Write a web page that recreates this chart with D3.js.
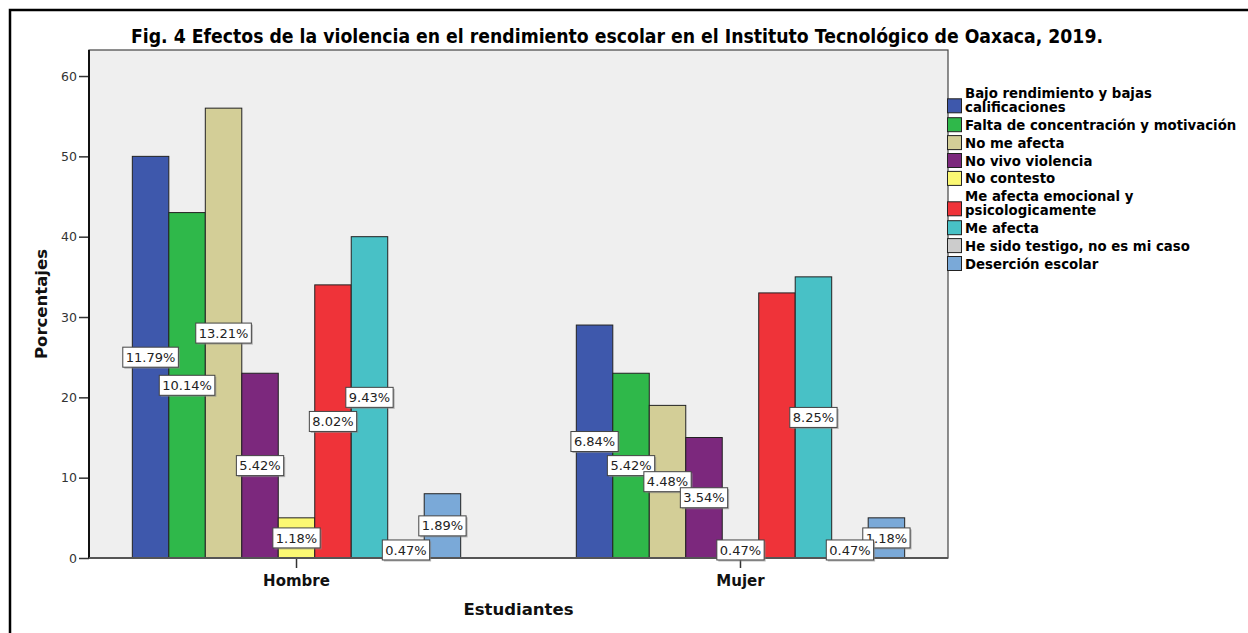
<!DOCTYPE html>
<html>
<head>
<meta charset="utf-8">
<script src="https://cdn.jsdelivr.net/npm/d3@7"></script>
<style>
  html, body { margin: 0; padding: 0; background: #fff; }
  svg { display: block; }
</style>
</head>
<body>
<svg id="chart" width="1248" height="633"></svg>
<script>
// ---- data ----
const categories = ["Hombre", "Mujer"];
const seriesNames = [
  "Bajo rendimiento y bajas calificaciones",
  "Falta de concentración y motivación",
  "No me afecta",
  "No vivo violencia",
  "No contesto",
  "Me afecta emocional y psicologicamente",
  "Me afecta",
  "He sido testigo, no es mi caso",
  "Deserción escolar"
];
const legendLines = [
  ["Bajo rendimiento y bajas", "calificaciones"],
  ["Falta de concentración y motivación"],
  ["No me afecta"],
  ["No vivo violencia"],
  ["No contesto"],
  ["Me afecta emocional y", "psicologicamente"],
  ["Me afecta"],
  ["He sido testigo, no es mi caso"],
  ["Deserción escolar"]
];
const seriesColors = ["#3e58ac", "#2fb84a", "#d3ce97", "#7c287d", "#fbf873", "#ef3339", "#48c1c6", "#cccccc", "#7aa9d8"];
const hombreValues = [50, 43, 56, 23, 5, 34, 40, 2, 8];
const mujerValues  = [29, 23, 19, 15, 2, 33, 35, 2, 5];
const hombreLabels = ["11.79%", "10.14%", "13.21%", "5.42%", "1.18%", "8.02%", "9.43%", "0.47%", "1.89%"];
const mujerLabels  = ["6.84%", "5.42%", "4.48%", "3.54%", "0.47%", null, "8.25%", "0.47%", "1.18%"];
const yTicks = [0, 10, 20, 30, 40, 50, 60];
const titleText = "Fig. 4 Efectos de la violencia en el rendimiento escolar en el Instituto Tecnológico de Oaxaca, 2019.";
const yTitle = "Porcentajes";
const xTitle = "Estudiantes";

// ---- layout ----
const svg = d3.select("#chart");
const plot = { left: 89, right: 948, top: 50, bottom: 558 };
const FONT = "'DejaVu Sans', Verdana, sans-serif";

const rows = categories.map((c, ci) => ({
  cat: c,
  values: ci === 0 ? hombreValues : mujerValues,
  labels: ci === 0 ? hombreLabels : mujerLabels
}));

const x0 = d3.scaleBand().domain(categories)
  .range([plot.left, plot.right]).paddingInner(0.2604).paddingOuter(0.0976);
const x1 = d3.scaleBand().domain(d3.range(seriesNames.length))
  .range([0, x0.bandwidth()]).padding(0);
const y = d3.scaleLinear().domain([0, 63.24]).range([plot.bottom, plot.top]);

// outer frame
svg.append("path")
  .attr("d", `M10,${640} L10,10 L${1260},10`)
  .attr("fill", "none").attr("stroke", "#000").attr("stroke-width", 2.5);

// title
svg.append("text")
  .attr("x", 617).attr("y", 43)
  .attr("text-anchor", "middle")
  .attr("font-family", FONT).attr("font-weight", "bold").attr("font-size", 19.5)
  .attr("fill", "#000")
  .attr("textLength", 972).attr("lengthAdjust", "spacingAndGlyphs")
  .text(titleText);

// plot background
svg.append("rect")
  .attr("x", plot.left).attr("y", plot.top)
  .attr("width", plot.right - plot.left).attr("height", plot.bottom - plot.top)
  .attr("fill", "#efefef").attr("stroke", "#444").attr("stroke-width", 1.2);

// bars
const g = svg.append("g");
rows.forEach(r => {
  g.selectAll(null).data(r.values.map((v, i) => ({ v, i })))
    .join("rect")
    .attr("x", d => x0(r.cat) + x1(d.i))
    .attr("y", d => y(d.v))
    .attr("width", x1.bandwidth())
    .attr("height", d => y(0) - y(d.v))
    .attr("fill", d => seriesColors[d.i])
    .attr("stroke", "#222").attr("stroke-width", 1);
});

// axes
const yAxis = d3.axisLeft(y).tickValues(yTicks).tickSize(10).tickPadding(2).tickFormat(d3.format("d"));
const ya = svg.append("g").attr("transform", `translate(${plot.left},0)`).call(yAxis);
ya.select(".domain").remove();
ya.selectAll(".tick line").attr("stroke", "#333").attr("stroke-width", 1.5);
ya.selectAll(".tick text").attr("font-family", FONT).attr("font-size", 12.5).attr("fill", "#333");
svg.append("line")
  .attr("x1", plot.left).attr("x2", plot.left).attr("y1", plot.top).attr("y2", plot.bottom)
  .attr("stroke", "#111").attr("stroke-width", 2);

const xAxis = d3.axisBottom(x0).tickSize(10).tickPadding(5);
const xa = svg.append("g").attr("transform", `translate(0,${plot.bottom})`).call(xAxis);
xa.select(".domain").remove();
xa.selectAll(".tick line").attr("stroke", "#333").attr("stroke-width", 1.5);
xa.selectAll(".tick text").attr("font-family", FONT).attr("font-size", 15)
  .attr("font-weight", "bold").attr("fill", "#111").attr("dy", "0.85em");
svg.append("line")
  .attr("x1", plot.left).attr("x2", plot.right).attr("y1", plot.bottom).attr("y2", plot.bottom)
  .attr("stroke", "#555").attr("stroke-width", 2);

// axis titles
svg.append("text")
  .attr("transform", `translate(47,${(plot.top + plot.bottom) / 2}) rotate(-90)`)
  .attr("text-anchor", "middle")
  .attr("font-family", FONT).attr("font-weight", "bold").attr("font-size", 16.5).attr("fill", "#111")
  .text(yTitle);
svg.append("text")
  .attr("x", (plot.left + plot.right) / 2).attr("y", 615)
  .attr("text-anchor", "middle")
  .attr("font-family", FONT).attr("font-weight", "bold").attr("font-size", 16.5).attr("fill", "#111")
  .text(xTitle);

// data labels
const labelData = [];
rows.forEach(r => r.values.forEach((v, i) => {
  if (r.labels[i]) labelData.push({ cat: r.cat, i, v, text: r.labels[i] });
}));
labelData.sort((a, b) => b.v - a.v);
const lg = svg.append("g");
labelData.forEach(d => {
  const cx = x0(d.cat) + x1(d.i) + x1.bandwidth() / 2;
  const cy = y(d.v / 2);
  const grp = lg.append("g");
  const t = grp.append("text")
    .attr("x", cx).attr("y", cy + 4.6)
    .attr("text-anchor", "middle")
    .attr("font-family", FONT).attr("font-size", 13).attr("fill", "#222")
    .text(d.text);
  const w = t.node().getComputedTextLength() + 6;
  const h = 20;
  grp.insert("rect", "text")
    .attr("x", cx - w / 2 + 1.5).attr("y", cy - h / 2 + 1.5)
    .attr("width", w).attr("height", h)
    .attr("fill", "#888").attr("opacity", 0.6);
  grp.insert("rect", "text")
    .attr("x", cx - w / 2).attr("y", cy - h / 2)
    .attr("width", w).attr("height", h)
    .attr("fill", "#fff").attr("stroke", "#444").attr("stroke-width", 1);
});

// legend
const leg = svg.append("g");
const lineH = 13.5;
let base = 98.3;
legendLines.forEach((lines, i) => {
  const swCy = lines.length > 1 ? base + 7.5 : base - 5;
  leg.append("rect")
    .attr("x", 947.5).attr("y", swCy - 7)
    .attr("width", 14).attr("height", 14)
    .attr("fill", seriesColors[i]).attr("stroke", "#222").attr("stroke-width", 1);
  const t = leg.append("text")
    .attr("font-family", FONT).attr("font-weight", "bold").attr("font-size", 13.3).attr("fill", "#000");
  lines.forEach((ln, k) => {
    t.append("tspan").attr("x", 965).attr("y", base + k * lineH).text(ln);
  });
  base += (lines.length - 1) * lineH + 17.9;
});
</script>
</body>
</html>
